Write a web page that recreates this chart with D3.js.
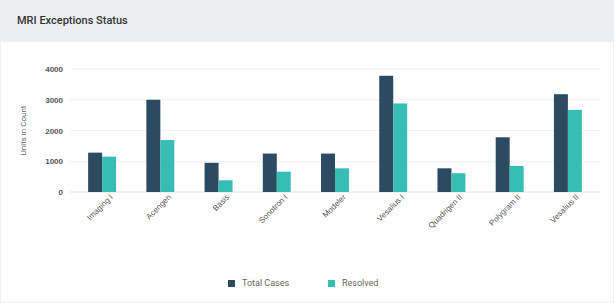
<!DOCTYPE html>
<html>
<head>
<meta charset="utf-8">
<script src="https://cdn.jsdelivr.net/npm/d3@7"></script>
<style>
  html, body { margin: 0; padding: 0; background: #fff; }
  body { font-family: Roboto, "Open Sans", sans-serif; }
</style>
</head>
<body>
<div id="chart"></div>
<script>
// Data
const categories = ["Imaging I", "Acengen", "Basis", "Sonotron I", "Modeler", "Vesalius I", "Quadrigen II", "Polygram II", "Vesalius II"];
const seriesNames = ["Total Cases", "Resolved"];
const totalCases = [1280, 3000, 950, 1250, 1250, 3780, 770, 1780, 3180];
const resolved = [1150, 1690, 380, 660, 770, 2880, 610, 850, 2670];
const yTicks = [0, 1000, 2000, 3000, 4000];

const colors = ["#2c4a62", "#38bdb5"];

const width = 616;
const height = 303;

const svg = d3.select('#chart')
  .append('svg')
  .attr('width', width)
  .attr('height', height);

// card + header
svg.append('rect')
  .attr('x', 0.5).attr('y', 0.5)
  .attr('width', width - 3).attr('height', height - 1)
  .attr('fill', '#fff')
  .attr('stroke', '#eef1f3');

svg.append('rect')
  .attr('x', 0).attr('y', 0)
  .attr('width', width - 2).attr('height', 42)
  .attr('fill', '#ebeff2');

svg.append('text')
  .attr('x', 17)
  .attr('y', 21)
  .attr('dominant-baseline', 'middle')
  .style('font-size', '11px')
  .style('font-weight', '500')
  .attr('fill', '#333')
  .text('MRI Exceptions Status');

// scales
const x0 = d3.scaleBand()
  .domain(categories)
  .range([73, 597])
  .paddingInner(0.52)
  .paddingOuter(0.26);

const x1 = d3.scaleBand()
  .domain(seriesNames)
  .range([0, x0.bandwidth()]);

const y = d3.scaleLinear()
  .domain([0, 4000])
  .range([192, 69]);

// grid
svg.append('g')
  .selectAll('line')
  .data(yTicks)
  .join('line')
  .attr('x1', 70).attr('x2', 600)
  .attr('y1', d => y(d)).attr('y2', d => y(d))
  .attr('stroke', d => d === 0 ? '#e0e0e0' : '#f0f0f0')
  .attr('stroke-width', 1);

// y axis
const yAxis = svg.append('g')
  .attr('transform', 'translate(67,0)')
  .call(d3.axisLeft(y).tickValues(yTicks).tickSize(0).tickPadding(4).tickFormat(d3.format('d')));
yAxis.select('.domain').remove();
yAxis.selectAll('text')
  .attr('fill', '#555')
  .style('font-size', '8px')
  .style('font-weight', '600');

svg.append('text')
  .attr('transform', `translate(24, ${(y(0) + y(4000)) / 2}) rotate(-90)`)
  .attr('text-anchor', 'middle')
  .attr('dominant-baseline', 'middle')
  .style('font-size', '8px')
  .attr('fill', '#666')
  .text('Units in Count');

// bars
const series = [totalCases, resolved];
const groups = svg.append('g')
  .selectAll('g')
  .data(categories)
  .join('g')
  .attr('transform', d => `translate(${x0(d)},0)`);

groups.selectAll('rect')
  .data((d, i) => seriesNames.map((s, j) => ({ key: s, value: series[j][i], j })))
  .join('rect')
  .attr('x', d => x1(d.key))
  .attr('y', d => y(d.value))
  .attr('width', x1.bandwidth())
  .attr('height', d => y(0) - y(d.value))
  .attr('fill', d => colors[d.j]);

// x axis labels
const xAxis = svg.append('g')
  .attr('transform', `translate(0, ${y(0)})`)
  .call(d3.axisBottom(x0).tickSize(0).tickPadding(6));
xAxis.select('.domain').remove();
xAxis.selectAll('text')
  .attr('fill', '#555')
  .style('font-size', '8px')
  .attr('text-anchor', 'end')
  .attr('transform', 'rotate(-45)')
  .attr('dx', '4')
  .attr('dy', '6');

// legend
const legend = svg.append('g')
  .attr('transform', 'translate(228, 284)');
const legendX = [0, 100];
legend.selectAll('rect')
  .data(seriesNames)
  .join('rect')
  .attr('x', (d, i) => legendX[i])
  .attr('y', -4)
  .attr('width', 7).attr('height', 7)
  .attr('fill', (d, i) => colors[i]);
legend.selectAll('text')
  .data(seriesNames)
  .join('text')
  .attr('x', (d, i) => legendX[i] + 14)
  .attr('y', 0)
  .attr('dominant-baseline', 'middle')
  .style('font-size', '9px')
  .attr('fill', '#666')
  .text(d => d);
</script>
</body>
</html>
